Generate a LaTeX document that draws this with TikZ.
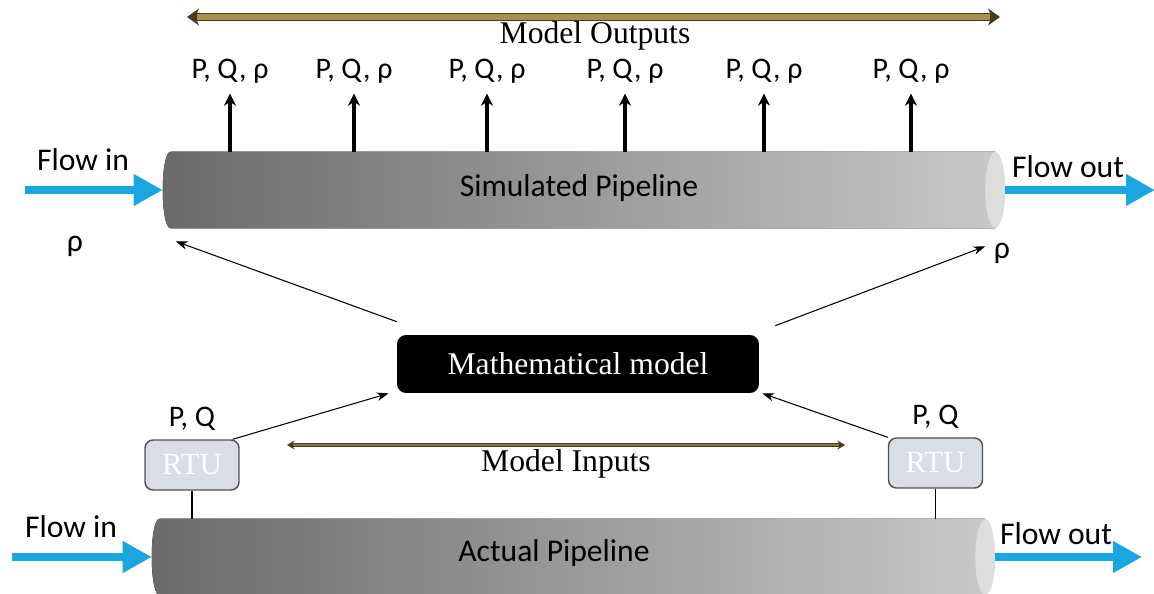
\documentclass[tikz,border=0pt]{standalone}
\usepackage{fontspec}
\setmainfont{Liberation Serif}
\newfontfamily\labelfont{Carlito}
\usetikzlibrary{arrows.meta,positioning,backgrounds}

\definecolor{flowblue}{HTML}{1AA6E0}
\definecolor{pipedark}{HTML}{6A6A6A}
\definecolor{pipelight}{HTML}{C8C8C8}
\definecolor{pipeend}{HTML}{DDDDDD}
\definecolor{rtufill}{HTML}{D8DDE6}
\definecolor{rtuedge}{HTML}{505050}
\definecolor{goldfill}{HTML}{A89050}
\definecolor{golddark}{HTML}{4A3C1A}
\definecolor{olivefill}{HTML}{857543}

\tikzset{
  flow/.style={draw=flowblue, line width=0.16cm,
    -{Triangle[length=0.58cm,width=0.6cm]}},
  sanslbl/.style={font=\labelfont\fontsize{18}{20}\selectfont, inner sep=2pt},
  qty/.style={font=\labelfont\fontsize{17}{19}\selectfont, inner sep=2pt},
  serlbl/.style={font=\fontsize{18}{20}\selectfont, inner sep=2pt},
  pipe/.style={minimum height=1.52cm, inner sep=0pt},
  rtu/.style={draw=rtuedge, fill=rtufill, rounded corners=0.16cm, line width=0.8pt,
    minimum width=1.88cm, minimum height=1cm, text=white,
    font=\fontsize{17.5}{19}\selectfont},
  mathbox/.style={fill=black, text=white, rounded corners=0.18cm,
    minimum width=7.24cm, minimum height=1.16cm, font=\fontsize{18}{20}\selectfont},
  meas/.style={-{Stealth[length=0.24cm,width=0.24cm]}, line width=0.065cm},
  feed/.style={-{Stealth[length=0.24cm,width=0.17cm]}, line width=0.6pt},
  band/.style={draw=golddark, line width=0.17cm,
    {Stealth[length=0.24cm,width=0.34cm]}-{Stealth[length=0.24cm,width=0.34cm]},
    postaction={draw=goldfill, line width=0.11cm, -, shorten <=0.2cm, shorten >=0.2cm}},
  thinband/.style={draw=golddark, line width=0.09cm,
    {Stealth[length=0.15cm,width=0.18cm]}-{Stealth[length=0.15cm,width=0.18cm]},
    postaction={draw=olivefill, line width=0.05cm, -, shorten <=0.12cm, shorten >=0.12cm}}
}

% body of a pipe behind node #1, end face of x radius #2
\newcommand{\drawpipe}[2]{
  \begin{scope}[on background layer]
    \fill[left color=pipedark, right color=pipelight]
      ([xshift=0.16cm]#1.north west)
        .. controls ([xshift=-0.053cm]#1.north west) and ([xshift=-0.053cm]#1.south west) ..
      ([xshift=0.16cm]#1.south west) -- ([xshift=-#2]#1.south east)
      -- ([xshift=-#2]#1.north east) -- cycle;
    \fill[pipeend] ([xshift=-#2]#1.east) ellipse [x radius=#2, y radius=0.76cm];
  \end{scope}
}

\begin{document}
\begin{tikzpicture}[x=0.02cm,y=-0.02cm]
  \useasboundingbox (0,0) rectangle (1154,594);

  % simulated line
  \node[pipe, minimum width=16.84cm] (simpipe) at (584,190) {};
  \drawpipe{simpipe}{0.2cm}
  \node[sanslbl] (simlbl) at (579,188) {Simulated Pipeline};

  \node[sanslbl] (fin1) at (83,160) {Flow in};
  \node[sanslbl] (fout1) at (1068,167) {Flow out};
  \coordinate (in1) at (25,190);
  \coordinate (out1) at (1155,190);
  \draw[flow] (in1) -- (simpipe.west);
  \draw[flow] (simpipe.east) -- (out1);

  \foreach \x [count=\i] in {230,354,487,625,764,911}{
    \node[qty, anchor=base] (q\i) at (\x,79) {P, Q, ρ};
    \draw[meas, shorten >=0.12cm] (simpipe.north -| q\i) -- (q\i.south);
  }

  \coordinate (ol) at (187,17);
  \coordinate (or) at (1000,17);
  \draw[band] (ol) -- (or);
  \node[serlbl] (outs) at (595,36) {Model Outputs};

  \node[sanslbl] (rhoL) at (75,246) {ρ};
  \node[sanslbl] (rhoR) at (1002,253) {ρ};

  % model
  \node[mathbox] (math) at (578,364) {Mathematical model};
  \draw[feed] ([yshift=0.26cm]math.north west)
    -- ([xshift=0.26cm,yshift=-0.26cm]simpipe.south west);
  \draw[feed] ([xshift=0.32cm,yshift=0.18cm]math.north east)
    -- ([xshift=-0.4cm,yshift=-0.36cm]simpipe.south east);

  % actual line
  \node[pipe, minimum width=16.86cm] (actpipe) at (573.5,557) {};
  \drawpipe{actpipe}{0.2cm}
  \node[sanslbl] (actlbl) at (554,553) {Actual Pipeline};

  \node[sanslbl] (fin2) at (71,527) {Flow in};
  \node[sanslbl] (fout2) at (1056,534) {Flow out};
  \coordinate (in2) at (12,557);
  \coordinate (out2) at (1142,557);
  \draw[flow] (in2) -- (actpipe.west);
  \draw[flow] (actpipe.east) -- (out2);

  \node[rtu] (rtuL) at (192,465) {RTU};
  \node[rtu] (rtuR) at (935.5,463) {RTU};
  \node[qty, above=0.1cm of rtuL] (pqL) {P, Q};
  \node[qty, above=0.1cm of rtuR] (pqR) {P, Q};
  \draw[line width=0.6pt] (rtuL.south) -- (rtuL.south |- actpipe.north);
  \draw[line width=0.6pt] (rtuR.south) -- (rtuR.south |- actpipe.north);

  \draw[feed] ([xshift=-0.14cm]rtuL.north east) -- ([xshift=-0.16cm]math.south west);
  \draw[feed] (rtuR.north west) -- ([xshift=0.06cm]math.south east);

  \coordinate (il) at (287,445);
  \coordinate (ir) at (845,445);
  \draw[thinband] (il) -- (ir);
  \node[serlbl] (ins) at (566,464) {Model Inputs};
\end{tikzpicture}
\end{document}
